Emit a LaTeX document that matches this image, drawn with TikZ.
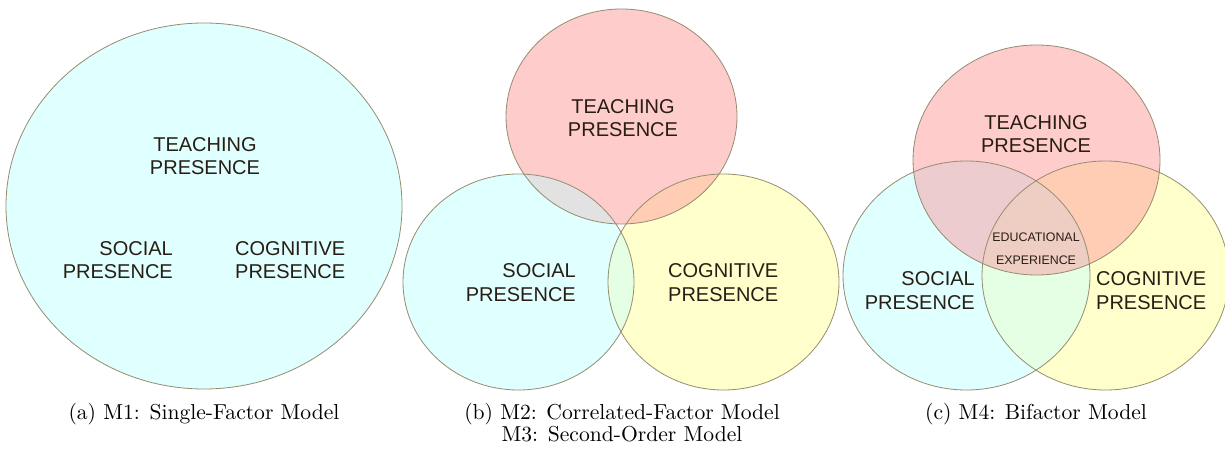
\documentclass[tikz,border=0pt]{standalone}
\usepackage{fontspec}
\newfontfamily\labelfont{Liberation Sans}
\newfontfamily\capfont{lmroman10-regular.otf}
\definecolor{pinkT}{RGB}{255,204,204}
\definecolor{cyanS}{RGB}{224,255,255}
\definecolor{yellowC}{RGB}{255,255,204}
\definecolor{grayTS}{RGB}{226,226,226}
\definecolor{peachTC}{RGB}{255,204,180}
\definecolor{greenSC}{RGB}{228,255,228}
\definecolor{pinkTS}{RGB}{236,204,206}
\definecolor{midTSC}{RGB}{238,205,194}
\definecolor{edgecol}{RGB}{150,140,112}
\definecolor{txtcol}{RGB}{40,30,20}
\tikzset{
  venn/.style={draw=edgecol, line width=0.8pt},
  lbl/.style={font=\labelfont\fontsize{20}{23.5}\selectfont, text=txtcol, inner sep=0pt},
  smalllbl/.style={font=\labelfont\fontsize{12.4}{23}\selectfont, text=txtcol, inner sep=0pt},
  captxt/.style={font=\capfont\fontsize{21.6}{22.5}\selectfont, text=black, inner sep=0pt, anchor=base}
}
\def\EA{(204,206) ellipse [x radius=198pt, y radius=183pt]}
\def\TB{(621.5,116.5) ellipse [x radius=115.5pt, y radius=107.5pt]}
\def\SB{(518.5,282) ellipse [x radius=115.5pt, y radius=108pt]}
\def\CB{(723.5,282) ellipse [x radius=115.5pt, y radius=108pt]}
\def\TC{(1036.5,160) ellipse [x radius=123.5pt, y radius=115pt]}
\def\SC{(966.5,275.5) ellipse [x radius=123.5pt, y radius=114.5pt]}
\def\CC{(1105.5,275.5) ellipse [x radius=123.5pt, y radius=114.5pt]}
\begin{document}
\begin{tikzpicture}[x=1pt,y=-1pt]
\useasboundingbox (0,0) rectangle (1225,449);
\fill[white] (0,0) rectangle (1225,449);
% ---------- (a)
\filldraw[venn, fill=cyanS] \EA;
\node[lbl, align=center] (aT) at (205,156) {TEACHING\\PRESENCE};
\node[lbl, align=right, anchor=east] (aS) at (173,260) {SOCIAL\\PRESENCE};
\node[lbl, align=left, anchor=west] (aC) at (235,260) {COGNITIVE\\PRESENCE};
\node[captxt] (capA) at (204,419) {(a) M1: Single-Factor Model};
% ---------- (b)
\fill[pinkT] \TB;
\fill[cyanS] \SB;
\fill[yellowC] \CB;
\begin{scope}\clip \TB; \fill[grayTS] \SB; \end{scope}
\begin{scope}\clip \TB; \fill[peachTC] \CB; \end{scope}
\begin{scope}\clip \SB; \fill[greenSC] \CB; \end{scope}
\draw[venn] \TB;
\draw[venn] \SB;
\draw[venn] \CB;
\node[lbl, align=center] (bT) at (623,118) {TEACHING\\PRESENCE};
\node[lbl, align=right, anchor=east] (bS) at (576,282.5) {SOCIAL\\PRESENCE};
\node[lbl, align=left, anchor=west] (bC) at (668,282.5) {COGNITIVE\\PRESENCE};
\node[captxt] (capB1) at (622,419) {(b) M2: Correlated-Factor Model};
\node[captxt] (capB2) at (622,441.5) {M3: Second-Order Model};
% ---------- (c)
\fill[pinkT] \TC;
\fill[cyanS] \SC;
\fill[yellowC] \CC;
\begin{scope}\clip \TC; \fill[pinkTS] \SC; \end{scope}
\begin{scope}\clip \TC; \fill[peachTC] \CC; \end{scope}
\begin{scope}\clip \SC; \fill[greenSC] \CC; \end{scope}
\begin{scope}\clip \TC; \clip \SC; \fill[midTSC] \CC; \end{scope}
\draw[venn] \TC;
\draw[venn] \SC;
\draw[venn] \CC;
\node[lbl, align=center] (cT) at (1036,134) {TEACHING\\PRESENCE};
\node[smalllbl, align=center] (cE) at (1036,249) {EDUCATIONAL\\EXPERIENCE};
\node[lbl, align=right, anchor=east] (cS) at (975,290.5) {SOCIAL\\PRESENCE};
\node[lbl, align=left, anchor=west] (cC) at (1096,290.5) {COGNITIVE\\PRESENCE};
\node[captxt] (capC) at (1036,419) {(c) M4: Bifactor Model};
\end{tikzpicture}
\end{document}
